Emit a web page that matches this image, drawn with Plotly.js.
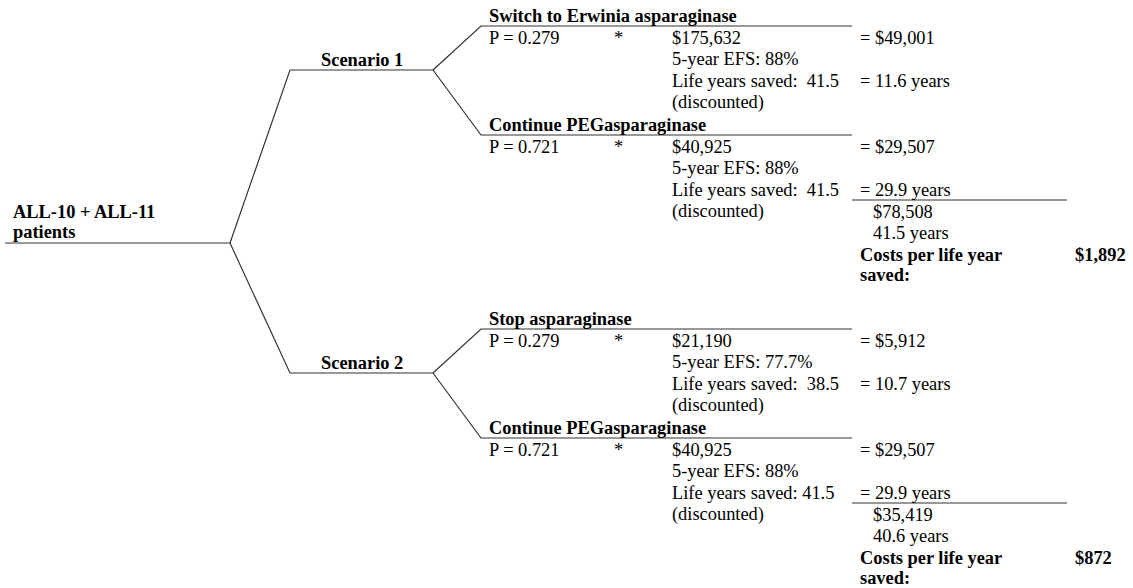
<!DOCTYPE html>
<html>
<head>
<meta charset="utf-8">
<script src="https://cdn.plot.ly/plotly-3.0.1.min.js"></script>
<style>html,body{margin:0;padding:0;background:#fff;}#chart{width:1133px;height:588px;}</style>
</head>
<body>
<div id="chart"></div>
<script>
// ---- data ----
const rootLabel = ['ALL-10 + ALL-11', 'patients'];
const scenarioLabels = ['Scenario 1', 'Scenario 2'];
const branchLabels = [
  ['Switch to Erwinia asparaginase', 'Continue PEGasparaginase'],
  ['Stop asparaginase', 'Continue PEGasparaginase']
];
const probabilities = [0.279, 0.721];
const branchCosts = [[175632, 40925], [21190, 40925]];
const efs5yr = [['88%', '88%'], ['77.7%', '88%']];
const lifeYearsSaved = [[41.5, 41.5], [38.5, 41.5]];
const weightedCosts = [[49001, 29507], [5912, 29507]];
const weightedYears = [[11.6, 29.9], [10.7, 29.9]];
const totalCosts = [78508, 35419];
const totalYears = [41.5, 40.6];
const costPerLifeYear = [1892, 872];

// ---- layout geometry (pixel space) ----
const G = {
  rootX0: 5, rootX1: 230, rootY: 243,
  scenX0: 290, scenX1: 433, scenY: [70, 373],
  brX0: 481, brX1: 852, brDy: [-44, 65],
  sumX1: 1067, sumDy: 65,
  colP: 488, colStar: 613, colVal: 671, colRes: 859, colTot: 872, colCost: 1074,
  rows: [11.5, 33, 55, 76]
};

const money = v => '$' + v.toLocaleString('en-US');
const FONT = {family: 'Liberation Serif, Times New Roman, serif', size: 18.4, color: '#000'};
const LINE = {color: '#333', width: 1.2};

const traces = [];
const ann = [];
function seg(xs, ys) {
  traces.push({x: xs, y: ys, mode: 'lines', type: 'scatter', line: LINE, hoverinfo: 'skip', showlegend: false});
}
function txt(x, y, text, anchor) {
  ann.push({x: x, y: y, xref: 'x', yref: 'y', text: text, showarrow: false, borderpad: 0,
            xanchor: anchor || 'left', yanchor: 'middle', font: FONT, align: 'left'});
}

// root
seg([G.rootX0, G.rootX1], [G.rootY, G.rootY]);
txt(12, 212, '<b>' + rootLabel[0] + '</b>');
txt(12, 232, '<b>' + rootLabel[1] + '</b>');

scenarioLabels.forEach((sl, s) => {
  const sy = G.scenY[s];
  seg([G.rootX1, G.scenX0, G.scenX1], [G.rootY, sy, sy]);
  txt((G.scenX0 + G.scenX1) / 2, sy - 10, '<b>' + sl + '</b>', 'center');
  branchLabels[s].forEach((bl, b) => {
    const by = sy + G.brDy[b];
    seg([G.scenX1, G.brX0, G.brX1], [sy, by, by]);
    txt(G.colP, by - 10, '<b>' + bl + '</b>');
    const r = G.rows.map(d => by + d);
    txt(G.colP, r[0], 'P = ' + probabilities[b]);
    txt(G.colStar, r[0], '*');
    txt(G.colVal, r[0], money(branchCosts[s][b]));
    txt(G.colVal, r[1], '5-year EFS: ' + efs5yr[s][b]);
    const sp = (s === 1 && b === 1) ? ' ' : '\u00a0 ';
    txt(G.colVal, r[2], 'Life years saved:' + sp + lifeYearsSaved[s][b]);
    txt(G.colVal, r[3], '(discounted)');
    txt(G.colRes, r[0], '= ' + money(weightedCosts[s][b]));
    txt(G.colRes, r[2], '= ' + weightedYears[s][b] + ' years');
    if (b === 1) {
      const uy = by + G.sumDy;
      seg([G.brX1, G.sumX1], [uy, uy]);
      const t = G.rows.map(d => uy + d);
      txt(G.colTot, t[0], money(totalCosts[s]));
      txt(G.colTot, t[1], totalYears[s] + ' years');
      txt(G.colRes, t[2], '<b>Costs per life year</b>');
      txt(G.colRes, t[3] - 1, '<b>saved:</b>');
      txt(G.colCost, t[2], '<b>' + money(costPerLifeYear[s]) + '</b>');
    }
  });
});

const layout = {
  width: 1133, height: 588,
  margin: {l: 0, r: 0, t: 0, b: 0, pad: 0},
  paper_bgcolor: '#fff', plot_bgcolor: '#fff',
  xaxis: {range: [0, 1133], visible: false, fixedrange: true},
  yaxis: {range: [588, 0], visible: false, fixedrange: true},
  annotations: ann,
  showlegend: false
};
Plotly.newPlot('chart', traces, layout, {staticPlot: true, displayModeBar: false});
</script>
</body>
</html>
